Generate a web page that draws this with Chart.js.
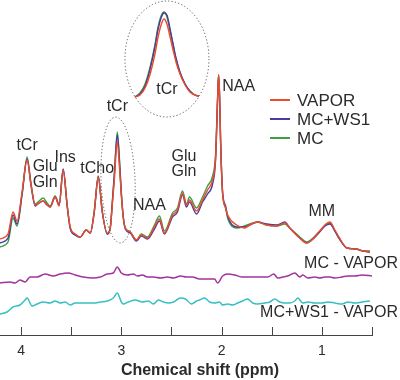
<!DOCTYPE html>
<html>
<head>
<meta charset="utf-8">
<script src="https://cdn.jsdelivr.net/npm/chart.js@4"></script>
<style>
    body { margin: 0; background: #fff; }
    canvas { display: block; }
</style>
</head>
<body>
<canvas id="spectrumChart" width="400" height="380"></canvas>
<script>
// chemical shift grid (ppm) and spectra in a.u.
const ppm = [4.21, 4.13, 4.08, 4.04, 3.99, 3.94, 3.90, 3.86, 3.82, 3.78,
    3.74, 3.71, 3.66, 3.62, 3.58, 3.54, 3.51, 3.46, 3.41, 3.35,
    3.31, 3.27, 3.23, 3.19, 3.14, 3.11, 3.09, 3.07, 3.04, 3.02,
    3.00, 2.98, 2.96, 2.91, 2.85, 2.80, 2.74, 2.67, 2.62, 2.57,
    2.49, 2.44, 2.39, 2.35, 2.32, 2.25, 2.19, 2.14, 2.09, 2.06,
    2.04, 2.03, 2.02, 2.01, 1.99, 1.96, 1.94, 1.85, 1.77, 1.72,
    1.64, 1.55, 1.45, 1.37, 1.32, 1.22, 1.15, 1.10, 1.03, 0.97,
    0.92, 0.87, 0.83, 0.75, 0.66, 0.59, 0.52];
const vapor = [13, 18, 40, 31, 60, 92, 67, 47, 49, 51,
    47, 45, 55, 46, 82, 47, 25, 18, 15, 22,
    19, 40, 75, 40, 19, 24, 47, 72, 110, 87,
    57, 34, 24, 20, 12, 17, 14, 25, 33, 19,
    37, 42, 59, 47, 52, 41, 52, 62, 72, 94,
    152, 177, 157, 112, 59, 44, 37, 27, 24, 27,
    30, 27, 26, 29, 24, 14, 9, 12, 20, 27,
    30, 22, 15, 4, 3, 1, 0];
const mcWs1 = [9, 14, 37, 28, 58, 93, 66, 46, 49, 51,
    47, 45, 55, 47, 83, 46, 24, 17, 15, 22,
    19, 40, 75, 40, 18, 24, 49, 76, 117, 93,
    58, 34, 23, 19, 11, 16, 13, 23, 31, 18,
    35, 40, 57, 45, 50, 38, 50, 58, 68, 92,
    152, 177, 156, 111, 60, 46, 36, 25, 25, 27,
    30, 28, 27, 30, 24, 14, 9, 12, 19, 26,
    28, 21, 14, 4, 3, 1, 0];
const mc = [5, 10, 34, 26, 57, 95, 68, 48, 51, 54,
    49, 46, 56, 47, 82, 46, 24, 17, 15, 22,
    19, 41, 76, 41, 18, 25, 50, 78, 120, 95,
    60, 35, 24, 20, 12, 18, 15, 27, 36, 21,
    39, 44, 61, 48, 55, 44, 55, 66, 76, 98,
    155, 177, 155, 110, 58, 44, 34, 24, 26, 28,
    30, 27, 26, 28, 24, 15, 10, 13, 20, 26,
    29, 21, 14, 4, 3, 1, 1];

// difference spectra
const diffMcPpm = [4.21, 4.11, 4.06, 4.01, 3.96, 3.91, 3.84, 3.76, 3.68, 3.61,
    3.53, 3.46, 3.38, 3.28, 3.21, 3.14, 3.08, 3.04, 3.00, 2.94,
    2.88, 2.84, 2.79, 2.74, 2.68, 2.61, 2.54, 2.48, 2.41, 2.35,
    2.29, 2.22, 2.14, 2.07, 2.04, 1.99, 1.94, 1.87, 1.80, 1.74,
    1.67, 1.60, 1.54, 1.48, 1.44, 1.39, 1.34, 1.27, 1.22, 1.19,
    1.14, 1.07, 1.02, 0.97, 0.92, 0.87, 0.80, 0.74, 0.67, 0.60, 0.50];
const diffMc = [-7, -6, -7, -4, -6, -1, -1, 2, 0, 2,
    3, 1, -1, -2, -1, 2, 3, 9, 3, 1,
    2, 0, 1, -1, -1, -2, -1, -2, 0, -1,
    -1, -3, -3, -3, -7, 0, 2, 1, -1, -1,
    -1, -1, -1, 2, -2, -1, 0, 3, -1, 1,
    -2, -1, -2, -1, -1, -2, -1, 0, 0, 1, 0];
const diffWsPpm = [4.21, 4.14, 4.08, 4.01, 3.96, 3.94, 3.89, 3.84, 3.78, 3.71,
    3.66, 3.61, 3.56, 3.51, 3.46, 3.39, 3.34, 3.28, 3.21, 3.14,
    3.08, 3.04, 3.00, 2.98, 2.93, 2.86, 2.79, 2.73, 2.68, 2.63,
    2.58, 2.53, 2.48, 2.41, 2.36, 2.30, 2.25, 2.22, 2.17, 2.12,
    2.07, 2.02, 1.99, 1.94, 1.89, 1.84, 1.79, 1.74, 1.69, 1.64,
    1.57, 1.52, 1.47, 1.42, 1.37, 1.32, 1.27, 1.24, 1.19, 1.14,
    1.07, 1.00, 0.94, 0.87, 0.80, 0.74, 0.67, 0.60, 0.52];
const diffWs = [-11, -9, -4, -2, 3, 5, -3, -1, 1, 0,
    2, 0, 1, -2, 0, 0, 0, 0, 1, 2,
    5, 10, 1, -1, 1, 3, 1, 2, -1, 3,
    1, 0, 1, 5, 4, -1, 2, 3, 5, 1,
    0, 1, -2, -1, -2, 0, 2, 4, 0, -1,
    0, 1, 4, 1, 0, 0, 2, 5, 0, 1,
    0, 0, 1, 0, -1, 1, 0, 1, 2];

// magnified tCr peak (inset)
const insetPpm = [3.150, 3.131, 3.112, 3.094, 3.075, 3.064, 3.052, 3.041, 3.030,
    3.019, 3.007, 2.996, 2.981, 2.962, 2.944, 2.925, 2.910];
const insetVapor = [3, 5, 12, 25, 46, 62, 75, 81, 76, 64, 50, 38, 26, 15, 8, 5, 4];
const insetMcWs1 = [3, 6, 14, 30, 53, 70, 82, 87, 85, 72, 56, 42, 28, 16, 9, 5, 4];
const insetMc = [3, 7, 16, 32, 55, 72, 84, 88, 83, 70, 55, 41, 27, 16, 9, 5, 4];

const tickValues = [4, 3, 2, 1];
const minorTicks = [4, 3.5, 3, 2.5, 2, 1.5, 1, 0.5];
const seriesNames = ['VAPOR', 'MC+WS1', 'MC'];
const seriesColors = ['#ee4a2b', '#4b3b9e', '#3c9e45'];
const diffNames = ['MC - VAPOR', 'MC+WS1 - VAPOR'];
const diffColors = ['#a3339c', '#36c0c2'];

// peak labels: [text, ppm, a.u.]
const peakLabels = [
    ['tCr', 3.94, 106], ['Glu', 3.76, 85], ['Gln', 3.76, 69], ['Ins', 3.56, 94],
    ['tCho', 3.24, 83], ['tCr', 3.04, 145], ['NAA', 2.72, 46],
    ['Glu', 2.375, 95], ['Gln', 2.375, 80], ['NAA', 1.83, 165], ['MM', 1.0, 40]
];

document.addEventListener('DOMContentLoaded', function() {
    const canvas = document.getElementById('spectrumChart');
    const textColor = '#2b2b2b';
    const font = '"Liberation Sans", Arial, sans-serif';

    function toPoints(xs, ys, offset = 0) {
        const n = Math.min(xs.length, ys.length);
        const pts = [];
        for (let i = 0; i < n; i++) {
            pts.push({ x: xs[i], y: ys[i] + offset });
        }
        return pts;
    }

    function lineSet(label, pts, color, xAxis, yAxis, width = 1.4) {
        return {
            label: label,
            data: pts,
            borderColor: color,
            borderWidth: width,
            pointRadius: 0,
            fill: false,
            cubicInterpolationMode: 'monotone',
            xAxisID: xAxis,
            yAxisID: yAxis
        };
    }

    const mainSeries = [vapor, mcWs1, mc];
    const insetSeries = [insetVapor, insetMcWs1, insetMc];
    const datasets = [];
    mainSeries.forEach((vals, i) => {
        datasets.push(lineSet(seriesNames[i], toPoints(ppm, vals), seriesColors[i], 'x', 'y'));
    });
    insetSeries.forEach((vals, i) => {
        datasets.push(lineSet(seriesNames[i] + ' inset', toPoints(insetPpm, vals), seriesColors[i], 'xInset', 'yInset'));
    });
    datasets.push(lineSet(diffNames[0], toPoints(diffMcPpm, diffMc, -24), diffColors[0], 'x', 'y', 1.5));
    datasets.push(lineSet(diffNames[1], toPoints(diffWsPpm, diffWs, -51), diffColors[1], 'x', 'y', 1.5));

    const annotate = {
        id: 'annotate',
        afterDatasetsDraw(chart) {
            const ctx = chart.ctx;
            const xs = chart.scales.x;
            const ys = chart.scales.y;
            const xi = chart.scales.xInset;
            const yi = chart.scales.yInset;
            const area = chart.chartArea;

            ctx.save();
            // dotted ellipses
            ctx.strokeStyle = '#555';
            ctx.lineWidth = 1;
            ctx.setLineDash([1.2, 2.2]);
            ctx.beginPath();
            ctx.ellipse(xs.getPixelForValue(3.033), ys.getPixelForValue(72), 17, 63, -0.04, 0, 2 * Math.PI);
            ctx.stroke();
            ctx.beginPath();
            ctx.ellipse(xi.getPixelForValue(3.03), yi.getPixelForValue(41), 42, 58, 0, 0, 2 * Math.PI);
            ctx.stroke();
            ctx.setLineDash([]);

            // peak labels
            ctx.fillStyle = textColor;
            ctx.font = '16px ' + font;
            ctx.textAlign = 'center';
            ctx.textBaseline = 'middle';
            peakLabels.forEach(l => {
                ctx.fillText(l[0], xs.getPixelForValue(l[1]), ys.getPixelForValue(l[2]));
            });
            ctx.fillText('tCr', xi.getPixelForValue(3.03), yi.getPixelForValue(10));

            // difference labels (run past the axis end, as in the figure)
            ctx.textAlign = 'right';
            ctx.fillText(diffNames[0], 398, ys.getPixelForValue(-12));
            ctx.fillText(diffNames[1], 398, ys.getPixelForValue(-61));

            // legend
            ctx.font = '17px ' + font;
            ctx.textAlign = 'left';
            seriesNames.forEach((name, i) => {
                const ly = 100 + i * 19;
                ctx.strokeStyle = seriesColors[i];
                ctx.lineWidth = 2;
                ctx.beginPath();
                ctx.moveTo(270, ly);
                ctx.lineTo(290, ly);
                ctx.stroke();
                ctx.fillText(name, 297, ly + 1);
            });

            // inward tick marks
            ctx.strokeStyle = '#444';
            ctx.lineWidth = 1;
            minorTicks.forEach(v => {
                const px = Math.round(xs.getPixelForValue(v)) + 0.5;
                ctx.beginPath();
                ctx.moveTo(px, area.bottom - 8);
                ctx.lineTo(px, area.bottom);
                ctx.stroke();
            });

            // axis title, centred on the figure
            ctx.font = 'bold 16px ' + font;
            ctx.textAlign = 'center';
            ctx.fillText('Chemical shift (ppm)', 200, 371);
            ctx.restore();
        }
    };

    new Chart(canvas, {
        type: 'line',
        data: { datasets: datasets },
        options: {
            responsive: false,
            animation: false,
            devicePixelRatio: 1,
            layout: { padding: { left: 0, right: 28, top: 0, bottom: 0 } },
            plugins: {
                legend: { display: false },
                tooltip: { enabled: false }
            },
            scales: {
                x: {
                    type: 'linear',
                    reverse: true,
                    min: 0.5,
                    max: 4.21,
                    afterBuildTicks: scale => {
                        scale.ticks = tickValues.map(v => ({ value: v }));
                    },
                    afterFit: scale => {
                        scale.height = 45;
                    },
                    grid: { drawOnChartArea: false, drawTicks: false },
                    border: { display: true, color: '#444', width: 1 },
                    ticks: {
                        padding: 8,
                        color: textColor,
                        font: { family: font, size: 14 },
                        maxRotation: 0,
                        autoSkip: false
                    }
                },
                y: { display: false, min: -83, max: 252 },
                xInset: { type: 'linear', display: false, reverse: true, min: 2.261, max: 3.656 },
                yInset: { type: 'linear', display: false, min: -235, max: 100 }
            }
        },
        plugins: [annotate]
    });
});
</script>
</body>
</html>
